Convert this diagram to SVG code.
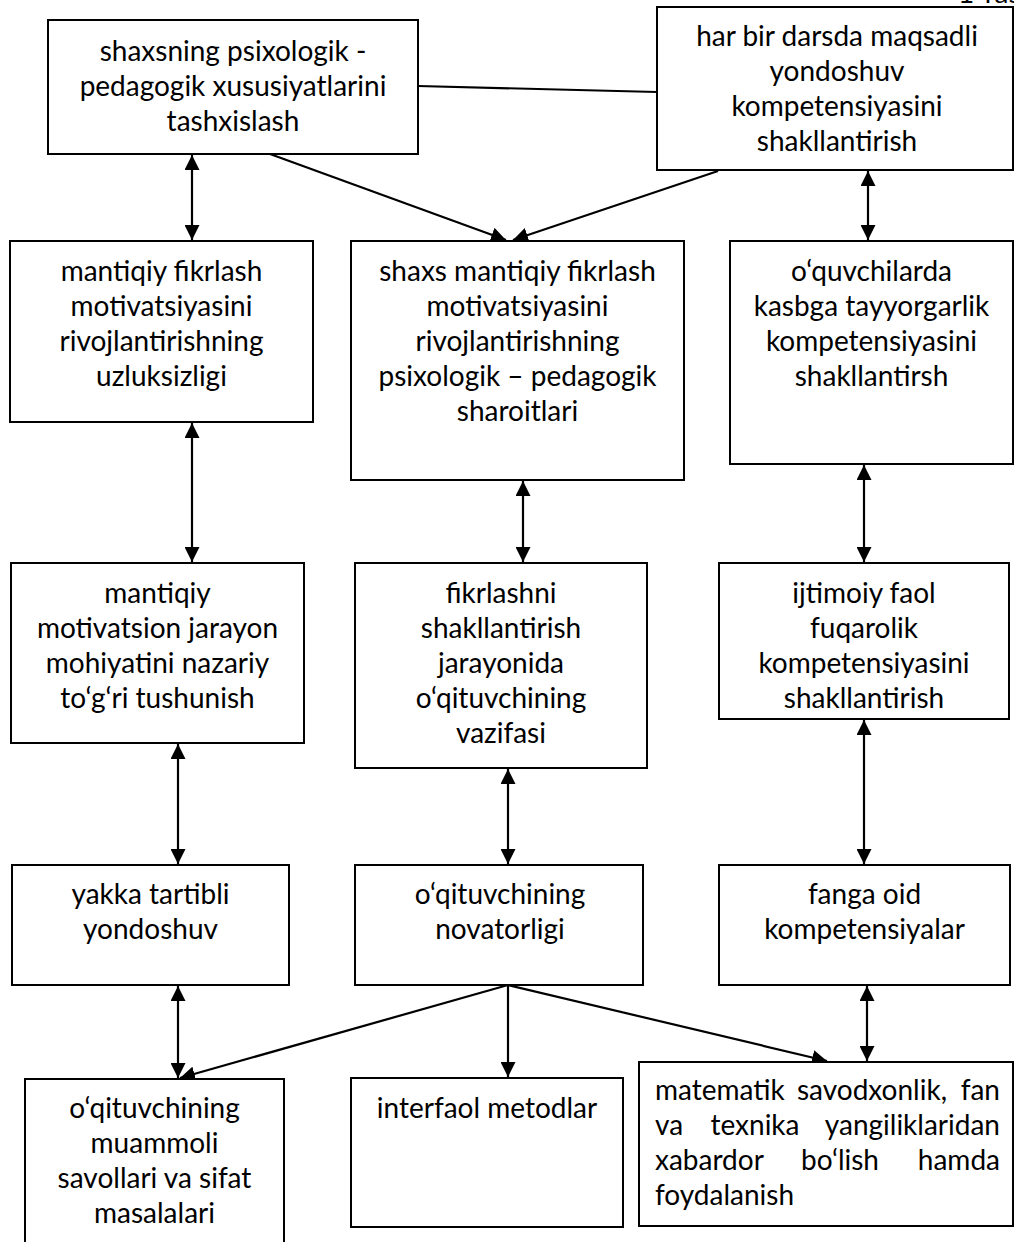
<svg xmlns="http://www.w3.org/2000/svg" width="1014" height="1242" viewBox="0 0 1014 1242">
<style>
.box{fill:#fff;stroke:#000;stroke-width:2}
.t{font-family:Lato,"Liberation Sans",sans-serif;font-size:28px;fill:#000;text-anchor:middle}
.tl{font-family:Lato,"Liberation Sans",sans-serif;font-size:28px;fill:#000;text-anchor:start}
.tr{font-family:Lato,"Liberation Sans",sans-serif;font-size:28px;fill:#000;text-anchor:end}
.c{stroke:#000;stroke-width:2.2;fill:none}
.a{marker-end:url(#ah)}
.d{marker-start:url(#ah);marker-end:url(#ah)}
</style>
<defs>
<marker id="ah" viewBox="0 0 10 10" refX="10" refY="5" markerWidth="15" markerHeight="15" markerUnits="userSpaceOnUse" orient="auto-start-reverse">
<path d="M0,0 L10,5 L0,10 z" fill="#000"/>
</marker>
</defs>
<rect width="1014" height="1242" fill="#fff"/>
<text class="tl" x="958" y="3">1-ras</text>

<g id="connectors">
<line class="c" x1="418" y1="86" x2="657" y2="92"/>
<line class="c a" x1="270" y1="154" x2="506" y2="240"/>
<line class="c a" x1="718" y1="171" x2="513" y2="240"/>
<line class="c d" x1="192" y1="155" x2="192" y2="240"/>
<line class="c d" x1="868" y1="171" x2="868" y2="240"/>
<line class="c d" x1="192" y1="423" x2="192" y2="562"/>
<line class="c d" x1="523" y1="481" x2="523" y2="562"/>
<line class="c d" x1="864" y1="465" x2="864" y2="562"/>
<line class="c d" x1="178" y1="744" x2="178" y2="864"/>
<line class="c d" x1="508" y1="769" x2="508" y2="864"/>
<line class="c d" x1="864" y1="720" x2="864" y2="864"/>
<line class="c d" x1="178" y1="986" x2="178" y2="1078"/>
<line class="c a" x1="508" y1="985" x2="180" y2="1078"/>
<line class="c a" x1="508" y1="985" x2="508" y2="1077"/>
<line class="c a" x1="508" y1="985" x2="827" y2="1061"/>
<line class="c d" x1="867" y1="986" x2="867" y2="1061"/>
</g>

<g id="n1">
<rect class="box" x="48" y="20" width="370" height="134"/>
<text class="t" x="233" y="61">shaxsning psixologik -</text>
<text class="t" x="233" y="96">pedagogik xususiyatlarini</text>
<text class="t" x="233" y="131">tashxislash</text>
</g>
<g id="n2">
<rect class="box" x="657" y="7" width="356" height="163"/>
<text class="t" x="837" y="46">har bir darsda maqsadli</text>
<text class="t" x="837" y="81">yondoshuv</text>
<text class="t" x="837" y="116">kompetensiyasini</text>
<text class="t" x="837" y="151">shakllantirish</text>
</g>
<g id="n3">
<rect class="box" x="10" y="241" width="303" height="181"/>
<text class="t" x="161.5" y="281">mantiqiy fikrlash</text>
<text class="t" x="161.5" y="316">motivatsiyasini</text>
<text class="t" x="161.5" y="351">rivojlantirishning</text>
<text class="t" x="161.5" y="386">uzluksizligi</text>
</g>
<g id="n4">
<rect class="box" x="351" y="241" width="333" height="239"/>
<text class="t" x="517.5" y="281">shaxs mantiqiy fikrlash</text>
<text class="t" x="517.5" y="316">motivatsiyasini</text>
<text class="t" x="517.5" y="351">rivojlantirishning</text>
<text class="t" x="517.5" y="386">psixologik – pedagogik</text>
<text class="t" x="517.5" y="421">sharoitlari</text>
</g>
<g id="n5">
<rect class="box" x="730" y="241" width="283" height="223"/>
<text class="t" x="871.5" y="281">o‘quvchilarda</text>
<text class="t" x="871.5" y="316">kasbga tayyorgarlik</text>
<text class="t" x="871.5" y="351">kompetensiyasini</text>
<text class="t" x="871.5" y="386">shakllantirsh</text>
</g>
<g id="n6">
<rect class="box" x="11" y="563" width="293" height="180"/>
<text class="t" x="157.5" y="603">mantiqiy</text>
<text class="t" x="157.5" y="638">motivatsion jarayon</text>
<text class="t" x="157.5" y="673">mohiyatini nazariy</text>
<text class="t" x="157.5" y="708">to‘g‘ri tushunish</text>
</g>
<g id="n7">
<rect class="box" x="355" y="563" width="292" height="205"/>
<text class="t" x="501" y="603">fikrlashni</text>
<text class="t" x="501" y="638">shakllantirish</text>
<text class="t" x="501" y="673">jarayonida</text>
<text class="t" x="501" y="708">o‘qituvchining</text>
<text class="t" x="501" y="743">vazifasi</text>
</g>
<g id="n8">
<rect class="box" x="719" y="563" width="290" height="156"/>
<text class="t" x="864" y="603">ijtimoiy faol</text>
<text class="t" x="864" y="638">fuqarolik</text>
<text class="t" x="864" y="673">kompetensiyasini</text>
<text class="t" x="864" y="708">shakllantirish</text>
</g>
<g id="n9">
<rect class="box" x="12" y="865" width="277" height="120"/>
<text class="t" x="150.5" y="904">yakka tartibli</text>
<text class="t" x="150.5" y="939">yondoshuv</text>
</g>
<g id="n10">
<rect class="box" x="355" y="865" width="288" height="120"/>
<text class="t" x="500" y="904">o‘qituvchining</text>
<text class="t" x="500" y="939">novatorligi</text>
</g>
<g id="n11">
<rect class="box" x="719" y="865" width="291" height="120"/>
<text class="t" x="864.5" y="904">fanga oid</text>
<text class="t" x="864.5" y="939">kompetensiyalar</text>
</g>
<g id="n12">
<rect class="box" x="25" y="1079" width="259" height="175"/>
<text class="t" x="154.5" y="1118">o‘qituvchining</text>
<text class="t" x="154.5" y="1153">muammoli</text>
<text class="t" x="154.5" y="1188">savollari va sifat</text>
<text class="t" x="154.5" y="1223">masalalari</text>
</g>
<g id="n13">
<rect class="box" x="351" y="1078" width="272" height="149"/>
<text class="t" x="487" y="1118">interfaol metodlar</text>
</g>
<g id="n14">
<rect class="box" x="639" y="1062" width="374" height="164"/>
<text class="tl" x="655" y="1100">matematik</text>
<text class="t" x="872" y="1100">savodxonlik,</text>
<text class="tr" x="1000" y="1100">fan</text>
<text class="tl" x="655" y="1135">va</text>
<text class="t" x="755" y="1135">texnika</text>
<text class="tr" x="1000" y="1135">yangiliklaridan</text>
<text class="tl" x="655" y="1170">xabardor</text>
<text class="t" x="840" y="1170">bo‘lish</text>
<text class="tr" x="1000" y="1170">hamda</text>
<text class="tl" x="655" y="1205">foydalanish</text>
</g>
</svg>
